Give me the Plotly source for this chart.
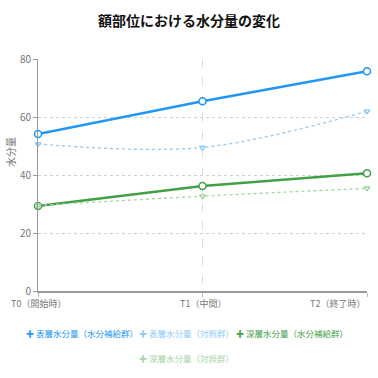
import plotly.graph_objects as go

categories = ["T0（開始時）", "T1（中間）", "T2（終了時）"]
surface_treat = [54.1, 65.4, 75.8]
surface_ctrl = [50.7, 49.5, 62.0]
deep_treat = [29.3, 36.2, 40.6]
deep_ctrl = [29.5, 32.7, 35.4]
y_ticks = [0, 20, 40, 60, 80]

FONT = "Noto Sans CJK JP"
GRAY = "#777777"

series = [
    ("表層水分量（水分補給群）", surface_treat, "#2196f3", "solid", 2.5, "circle", 7, "linear"),
    ("表層水分量（対照群）", surface_ctrl, "#90caf9", "dot", 1.3, "triangle-down", 5, "spline"),
    ("深層水分量（水分補給群）", deep_treat, "#43a047", "solid", 2.5, "circle", 7, "linear"),
    ("深層水分量（対照群）", deep_ctrl, "#a5d6a7", "dot", 1.3, "triangle-down", 5, "spline"),
]

W = H = 378
ML, MR, MT, MB = 38, 11, 59, 87
plot_w = W - ML - MR
plot_h = H - MT - MB

fig = go.Figure()
for name, vals, col, dash, w, sym, sz, shape in series:
    fig.add_trace(go.Scatter(
        x=categories, y=vals, mode="lines+markers", name=name,
        line=dict(color=col, width=w, dash=dash, shape=shape),
        marker=dict(symbol=sym, size=sz, color="white", line=dict(color=col, width=1.5)),
        showlegend=False, cliponaxis=False,
    ))

annotations = []
# x-axis category labels
for i, c in enumerate(categories):
    anchor = "right" if i == len(categories) - 1 else "center"
    annotations.append(dict(
        x=c, y=0, xref="x", yref="paper", text=c, showarrow=False,
        xanchor=anchor, yanchor="top", yshift=-4,
        font=dict(family=FONT, size=9, color=GRAY),
    ))

# y-axis title
annotations.append(dict(
    x=(10 - ML) / plot_w, y=(H - MB - 152) / plot_h, xref="paper", yref="paper",
    text="水分量", showarrow=False,
    textangle=-90, xanchor="center", yanchor="middle",
    font=dict(family=FONT, size=10, color=GRAY),
))

# legend entries (series colour text with marker glyph)
legend_pos = [(24, 333), (137, 333), (234, 333), (137, 358)]
for (name, vals, col, *_), (px, py) in zip(series, legend_pos):
    annotations.append(dict(
        x=(px - ML) / plot_w, y=(H - MB - py) / plot_h, xref="paper", yref="paper",
        text=f"<span style='font-size:8px'>✚</span> {name}", showarrow=False,
        xanchor="left", yanchor="middle",
        font=dict(family=FONT, size=8.5, color=col),
    ))

fig.update_layout(
    width=W, height=H,
    margin=dict(l=ML, r=MR, t=MT, b=MB),
    paper_bgcolor="white", plot_bgcolor="white",
    title=dict(text="<b>額部位における水分量の変化</b>", x=0.5, xanchor="center",
               y=1 - 21 / H, yanchor="middle",
               font=dict(family=FONT, size=14, color="#111111")),
    font=dict(family=FONT, size=10, color=GRAY),
    annotations=annotations,
    showlegend=False,
)

fig.update_xaxes(
    type="category", range=[0, 2], showticklabels=False, automargin=False,
    showline=True, linecolor="#999999", linewidth=2,
    showgrid=True, gridcolor="#dddddd", griddash="dash", gridwidth=1,
    ticks="outside", ticklen=4, tickcolor="#bbbbbb", zeroline=False,
)
fig.update_yaxes(
    range=[0, 80], tickvals=y_ticks, automargin=False,
    showline=True, linecolor="#999999", linewidth=1,
    showgrid=True, gridcolor="#d0d0d0", griddash="dot", gridwidth=1,
    ticks="outside", ticklen=4, tickcolor="#999999", zeroline=False,
    tickfont=dict(family=FONT, size=10, color=GRAY),
)

fig.write_html("out.html", config={"displayModeBar": False},
               post_script="document.body.style.margin='0';")
